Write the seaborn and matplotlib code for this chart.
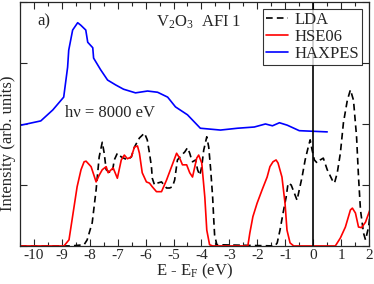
import numpy as np
import pandas as pd
import matplotlib
matplotlib.use("Agg")
import matplotlib.pyplot as plt
import seaborn as sns
from matplotlib.ticker import MultipleLocator, NullFormatter

# HAXPES experimental spectrum
haxpes_e = [-10.46, -9.75, -9.32, -8.93, -8.79, -8.75, -8.61, -8.43, -8.32, -8.14, -8.07,
            -7.89, -7.86, -7.61, -7.36, -7.07, -6.79, -6.36, -5.93, -5.57, -5.21, -4.93,
            -4.5, -4.04, -3.32, -2.71, -2.11, -1.71, -1.46, -1.21, -0.93, -0.5, 0.5]
haxpes_i = [1.98, 2.05, 2.23, 2.44, 2.93, 3.21, 3.54, 3.66, 3.62, 3.54, 3.34,
            3.25, 3.08, 2.89, 2.72, 2.64, 2.57, 2.51, 2.54, 2.52, 2.44, 2.28,
            2.15, 1.93, 1.90, 1.93, 1.95, 2.0, 1.97, 2.02, 1.98, 1.89, 1.87]

# HSE06 DOS
hse_e = [-10.5, -8.92, -8.74, -8.63, -8.45, -8.31, -8.2, -8.13, -7.95, -7.77, -7.66, -7.55,
         -7.41, -7.34, -7.23, -7.16, -7.01, -6.87, -6.76, -6.65, -6.51, -6.40, -6.29, -6.22,
         -6.12, -5.97, -5.86, -5.76, -5.61, -5.43, -5.25, -5.07, -4.89, -4.78, -4.68, -4.53,
         -4.42, -4.32, -4.17, -4.10, -3.99, -3.88, -3.81, -3.71, -3.6, -2.34, -2.27, -2.16,
         -2.01, -1.83, -1.65, -1.55, -1.44, -1.33, -1.26, -1.12, -1.01, -0.94, -0.83, -0.7,
         0.79, 0.97, 1.15, 1.33, 1.40, 1.51, 1.62, 1.73, 1.87, 2.05]
hse_i = [0.0, 0.0, 0.1, 0.43, 0.97, 1.25, 1.38, 1.39, 1.30, 1.05, 1.16, 1.25,
         1.30, 1.20, 1.25, 1.28, 1.11, 1.41, 1.49, 1.43, 1.46, 1.62, 1.64, 1.52,
         1.20, 1.05, 1.03, 0.97, 0.89, 0.89, 1.08, 1.30, 1.52, 1.44, 1.33, 1.33,
         1.20, 1.13, 1.44, 1.49, 1.36, 0.80, 0.26, 0.02, 0.0, 0.0, 0.21, 0.48,
         0.70, 0.92, 1.13, 1.30, 1.38, 1.41, 1.36, 1.13, 0.70, 0.26, 0.05, 0.0,
         0.0, 0.13, 0.31, 0.59, 0.62, 0.54, 0.31, 0.30, 0.39, 0.62]

# LDA DOS
lda_e = [-10.5, -8.67, -8.2, -8.09, -7.91, -7.77, -7.66, -7.55, -7.48, -7.41, -7.30, -7.19,
         -7.12, -7.01, -6.87, -6.65, -6.51, -6.40, -6.22, -6.04, -5.94, -5.86, -5.79, -5.76,
         -5.68, -5.58, -5.43, -5.25, -5.14, -5.04, -4.96, -4.86, -4.71, -4.60, -4.50, -4.42,
         -4.35, -4.32, -4.21, -4.14, -4.06, -3.99, -3.92, -3.81, -3.74, -3.67, -3.60, -3.56,
         -3.53, -3.45, -1.37, -1.29, -1.19, -1.08, -0.97, -0.90, -0.79, -0.68, -0.58, -0.50,
         -0.40, -0.29, -0.18, -0.11, -0.04, 0.04, 0.14, 0.25, 0.36, 0.50, 0.68, 0.76,
         0.86, 0.97, 1.08, 1.22, 1.33, 1.44, 1.55, 1.62, 1.69, 1.80, 1.87, 1.98, 2.05]
lda_i = [0.0, 0.0, 0.02, 0.1, 0.38, 0.92, 1.46, 1.70, 1.52, 1.25, 1.21, 1.21,
         1.41, 1.52, 1.46, 1.41, 1.46, 1.62, 1.77, 1.85, 1.74, 1.52, 1.30, 1.11,
         1.00, 1.03, 1.05, 0.95, 0.95, 0.97, 1.08, 1.41, 1.49, 1.54, 1.61, 1.52,
         1.41, 1.38, 1.41, 1.25, 1.16, 1.30, 1.57, 1.79, 1.62, 1.25, 0.80, 0.43,
         0.18, 0.02, 0.0, 0.05, 0.26, 0.54, 0.80, 1.03, 1.00, 0.87, 0.75, 0.92,
         1.13, 1.41, 1.62, 1.74, 1.57, 1.41, 1.36, 1.41, 1.44, 1.25, 1.08, 1.03,
         1.20, 1.52, 2.02, 2.39, 2.56, 2.39, 1.79, 1.13, 0.59, 0.21, 0.10, 0.31, 0.59]

x_ticks = list(range(-10, 3))

sns.set_style("ticks")
plt.rcParams['font.family'] = ['Liberation Serif', 'DejaVu Serif']
plt.rcParams['mathtext.fontset'] = 'custom'
plt.rcParams['mathtext.rm'] = 'Liberation Serif'
plt.rcParams['mathtext.it'] = 'Liberation Serif:italic'

fig = plt.figure(figsize=(3.74, 2.84), dpi=100)
ax = fig.add_axes([0.053, 0.134, 0.934, 0.859])

lda_df = pd.DataFrame({"E": lda_e, "I": lda_i})
hse_df = pd.DataFrame({"E": hse_e, "I": hse_i})
hax_df = pd.DataFrame({"E": haxpes_e, "I": haxpes_i})

sns.lineplot(data=lda_df, x="E", y="I", ax=ax, color="black", lw=1.2,
             linestyle=(0, (4, 2.5)), label="LDA", sort=False)
sns.lineplot(data=hse_df, x="E", y="I", ax=ax, color="#ff0000", lw=1.2,
             label="HSE06", sort=False)
sns.lineplot(data=hax_df, x="E", y="I", ax=ax, color="#0000ff", lw=1.2,
             label="HAXPES", sort=False)
ax.axvline(0, color="black", lw=1.2)

ax.set_xlim(-10.5, 2.0)
ax.set_ylim(0, 4.0)
ax.set_xticks(x_ticks)
ax.set_xticklabels([f"{t}" if t >= 0 else f"-{abs(t)}" for t in x_ticks])
ax.xaxis.set_minor_locator(MultipleLocator(0.5))
ax.yaxis.set_major_locator(MultipleLocator(1))
ax.yaxis.set_major_formatter(NullFormatter())
ax.tick_params(axis="both", which="both", direction="in", top=True, right=True,
               labelsize=11, pad=2, width=0.8)
ax.tick_params(which="major", length=5)
ax.tick_params(which="minor", length=3)
for s in ax.spines.values():
    s.set_linewidth(0.9)

ax.set_xlabel("E - E$_\\mathrm{F}$ (eV)", fontsize=12, labelpad=0)
ax.set_ylabel("Intensity (arb. units)", fontsize=12)
ax.yaxis.set_label_coords(-0.012, 0.42)

ax.text(0.05, 0.905, "a)", transform=ax.transAxes, fontsize=12)
ax.text(0.39, 0.9, "V$_2$O$_3$  AFI 1", transform=ax.transAxes, fontsize=12)
ax.text(0.13, 0.53, "h\u03bd = 8000 eV", transform=ax.transAxes, fontsize=12)

leg = ax.legend(loc="upper right", fontsize=12, frameon=True, fancybox=False,
                handlelength=1.3, handletextpad=0.4, borderpad=0.2, labelspacing=0.05,
                borderaxespad=0.4)
leg.get_frame().set_edgecolor("black")
leg.get_frame().set_linewidth(0.8)

fig.savefig("out.png", dpi=100)
